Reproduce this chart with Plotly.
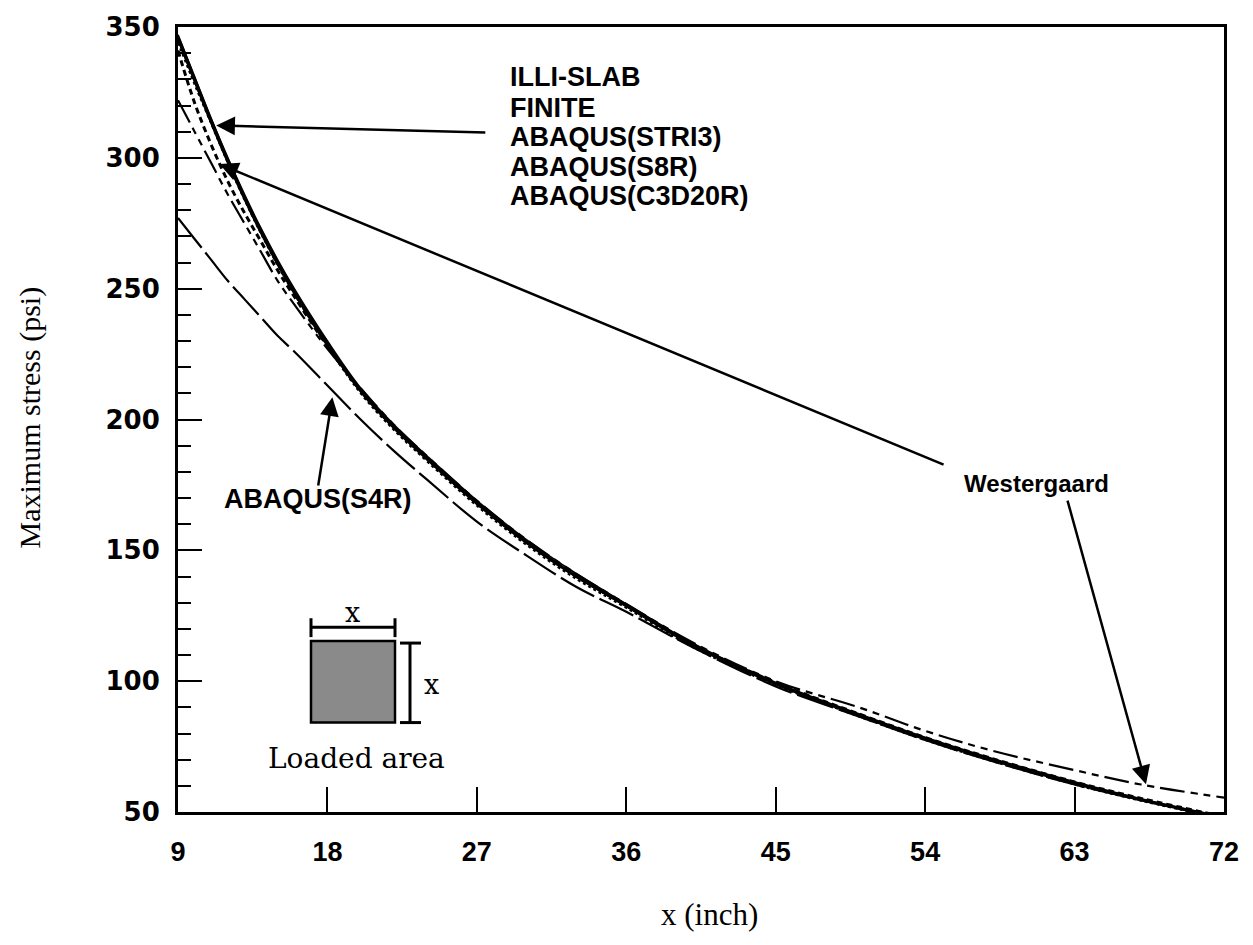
import plotly.graph_objects as go

# ---------------- data ----------------
x_inch = [9, 10, 11, 12, 13, 14, 15, 16, 18, 20, 22, 24, 27, 30, 33, 36, 40, 45, 50, 54, 58, 63, 67, 72]

illi_slab = [346, 330, 314, 299, 285, 272, 260, 249, 229, 211, 197, 185, 168, 153, 140, 129, 114, 99, 87, 78, 70, 61, 54.7, 47.8]
finite    = [347, 331, 315, 300, 286, 273, 261, 250, 230, 212, 198, 186, 169, 154, 141, 129.5, 114.5, 99.5, 87.5, 78.5, 70.5, 61.5, 55, 48]
abaqus_stri3  = [341, 321, 305, 291, 279, 268, 257, 247, 228, 211, 197, 185, 168, 153, 140, 129, 114, 99.5, 87.5, 78.5, 70.5, 61.5, 55.2, 48.2]
abaqus_s8r    = [344, 328, 313, 298, 284, 271, 259, 248, 228, 210, 196, 184, 167, 152, 139, 128, 113, 98.5, 86.5, 77.5, 69.5, 60.5, 54.3, 47.3]
abaqus_c3d20r = [345, 329, 313, 298, 284, 271, 259, 248, 228, 211, 197, 185, 168, 153, 140, 128.5, 113.5, 99, 87, 78, 70, 61, 54.7, 47.6]
abaqus_s4r    = [277, 269, 261, 253, 246, 239, 232, 226, 213, 200, 188, 177, 161, 148, 136, 126.5, 113, 98, 86.5, 77.5, 69.5, 60.5, 54.5, 47.5]
westergaard   = [322, 310, 298, 286, 275, 264, 253, 244, 227, 212, 198, 186, 169, 154, 141, 129.5, 114.8, 100, 90, 81, 73.5, 66, 60.5, 55.5]

x_ticks = [9, 18, 27, 36, 45, 54, 63, 72]
y_ticks = [50, 100, 150, 200, 250, 300, 350]

group_labels = ["ILLI-SLAB", "FINITE", "ABAQUS(STRI3)", "ABAQUS(S8R)", "ABAQUS(C3D20R)"]
group_label_x = 28.9
group_label_y = [331.0, 319.2, 307.8, 296.4, 285.4]

# arrow (tip, tail) pairs in data units
arrow_group = ((11.3, 312.4), (27.6, 309.7))
arrow_s4r = ((18.3, 208.5), (17.43, 174.2))
arrow_west_top = ((11.5, 297.6), (55.2, 182.5))
arrow_west_low = ((67.3, 60.6), (62.55, 169.6))

# ---------------- figure ----------------
fig = go.Figure()

series = [
    ("ILLI-SLAB", illi_slab, dict(width=3.2, dash="solid")),
    ("FINITE", finite, dict(width=1.8, dash="solid")),
    ("ABAQUS(STRI3)", abaqus_stri3, dict(width=3, dash="6px,4px")),
    ("ABAQUS(S8R)", abaqus_s8r, dict(width=2, dash="3px,3px")),
    ("ABAQUS(C3D20R)", abaqus_c3d20r, dict(width=1.6, dash="solid")),
    ("ABAQUS(S4R)", abaqus_s4r, dict(width=2.2, dash="38px,6px")),
    ("Westergaard", westergaard, dict(width=2.2, dash="25px,6px,7px,6px,7px,6px")),
]
for name, ys, ln in series:
    fig.add_trace(go.Scatter(
        x=x_inch, y=ys, mode="lines", name=name,
        line=dict(color="black", shape="spline", smoothing=1.0, **ln),
        hoverinfo="skip"))

# pixel -> paper helpers for the decorative inset
L, R, T, B = 178, 1224, 22, 812
def px(xp):
    return (xp - L) / (R - L)
def py(yp):
    return (B - yp) / (B - T)

shapes = []
# loaded-area square
shapes.append(dict(type="rect", xref="paper", yref="paper",
                   x0=px(311), x1=px(395), y0=py(722), y1=py(640),
                   line=dict(color="black", width=2.5), fillcolor="#8a8a8a"))
# top dimension line with end caps
shapes.append(dict(type="line", xref="paper", yref="paper", x0=px(311), x1=px(395), y0=py(626), y1=py(626),
                   line=dict(color="black", width=3)))
for xp in (311, 395):
    shapes.append(dict(type="line", xref="paper", yref="paper", x0=px(xp), x1=px(xp), y0=py(617), y1=py(636),
                       line=dict(color="black", width=3)))
# right dimension line with end caps
shapes.append(dict(type="line", xref="paper", yref="paper", x0=px(410), x1=px(410), y0=py(642), y1=py(722),
                   line=dict(color="black", width=3)))
for yp in (642, 722):
    shapes.append(dict(type="line", xref="paper", yref="paper", x0=px(400), x1=px(421), y0=py(yp), y1=py(yp),
                       line=dict(color="black", width=3)))

sans_bold = dict(family="Liberation Sans", size=27, color="black", weight="bold")
serif = dict(family="DejaVu Serif", size=27, color="black")

annotations = []
for txt, yy in zip(group_labels, group_label_y):
    annotations.append(dict(x=group_label_x, y=yy, xref="x", yref="y", text=txt, showarrow=False,
                            xanchor="left", yanchor="middle", font=sans_bold))
annotations.append(dict(x=17.43, y=169.6, xref="x", yref="y", text="ABAQUS(S4R)", showarrow=False,
                        xanchor="center", yanchor="middle", font=sans_bold))
annotations.append(dict(x=60.7, y=175.7, xref="x", yref="y", text="Westergaard", showarrow=False,
                        xanchor="center", yanchor="middle", font=dict(sans_bold, size=24)))

for (tip, tail) in (arrow_group, arrow_s4r, arrow_west_top, arrow_west_low):
    annotations.append(dict(x=tip[0], y=tip[1], ax=tail[0], ay=tail[1], xref="x", yref="y",
                            axref="x", ayref="y", text="", showarrow=True,
                            arrowhead=2, arrowsize=1.5, arrowwidth=2.5, arrowcolor="black"))

# inset labels
annotations.append(dict(x=px(352), y=py(611), xref="paper", yref="paper", text="x", showarrow=False,
                        xanchor="center", yanchor="middle", font=serif))
annotations.append(dict(x=px(431), y=py(684), xref="paper", yref="paper", text="x", showarrow=False,
                        xanchor="center", yanchor="middle", font=serif))
annotations.append(dict(x=px(356), y=py(758), xref="paper", yref="paper", text="Loaded area", showarrow=False,
                        xanchor="center", yanchor="middle", font=dict(serif, size=28)))

# axis titles
annotations.append(dict(x=px(30), y=py(415), xref="paper", yref="paper", text="Maximum stress (psi)",
                        showarrow=False, textangle=-90, xanchor="center", yanchor="middle",
                        font=dict(family="Liberation Serif", size=30, color="black")))
annotations.append(dict(x=px(709), y=py(915), xref="paper", yref="paper", text="x (inch)",
                        showarrow=False, xanchor="center", yanchor="middle",
                        font=dict(family="Liberation Serif", size=31, color="black")))

fig.update_layout(
    width=1253, height=945,
    margin=dict(l=L, r=1253 - R, t=T, b=945 - B),
    plot_bgcolor="white", paper_bgcolor="white",
    showlegend=False,
    shapes=shapes, annotations=annotations,
    xaxis=dict(range=[9, 72], tickmode="array", tickvals=x_ticks, ticktext=[str(v) for v in x_ticks],
               ticks="inside", ticklen=25, tickwidth=2, tickcolor="black",
               showline=True, linewidth=3, linecolor="black", mirror=True,
               showgrid=False, zeroline=False, ticklabelstandoff=14,
               tickfont=dict(family="Liberation Sans", size=27, color="black", weight="bold")),
    yaxis=dict(range=[50, 350], tickmode="array", tickvals=y_ticks, ticktext=[str(v) for v in y_ticks],
               ticks="inside", ticklen=24, tickwidth=2, tickcolor="black",
               minor=dict(tickmode="linear", tick0=50, dtick=10, ticks="inside", ticklen=13,
                          tickwidth=2, tickcolor="black", showgrid=False),
               showline=True, linewidth=3, linecolor="black", mirror=True,
               showgrid=False, zeroline=False, ticklabelstandoff=10,
               tickfont=dict(family="DejaVu Sans", size=26, color="black", weight="bold")),
)

fig.write_html("out.html")
